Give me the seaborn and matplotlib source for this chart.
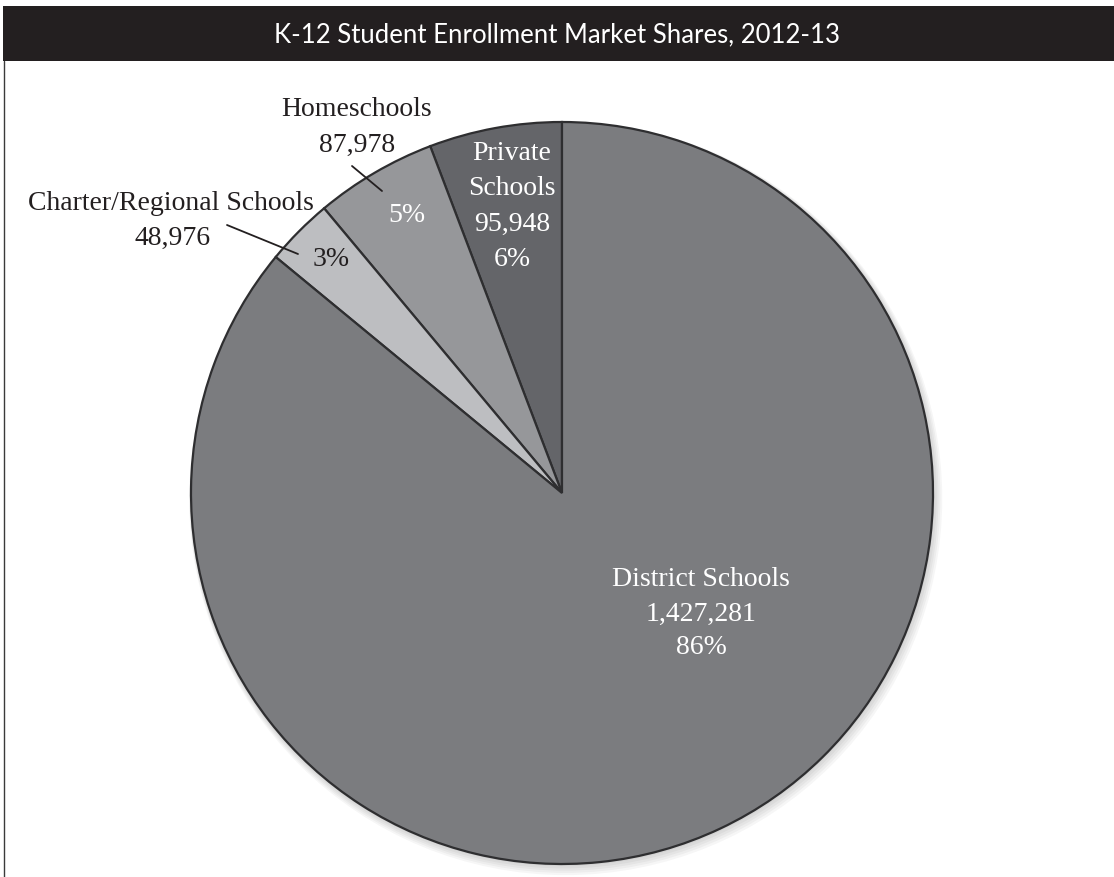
import matplotlib
matplotlib.use("Agg")
import matplotlib.pyplot as plt
from matplotlib.patches import Rectangle, Circle
from matplotlib.lines import Line2D
import seaborn as sns

# Enrollment by school type, 2012-13 (drawn counter-clockwise from 12 o'clock)
categories = ["Private Schools", "Homeschools", "Charter/Regional Schools", "District Schools"]
enrollment = [95948, 87978, 48976, 1427281]
colors = ["#646569", "#96979a", "#bdbec1", "#7b7c7f"]
title = "K-12 Student Enrollment Market Shares, 2012-13"

sns.set_theme(style="white")
plt.rcParams["font.family"] = ["Liberation Serif", "DejaVu Serif"]

W, H = 1114, 878
CX, CY, R = 562, 494, 371  # pie centre and radius in pixels


def px(x, y):
    """Pixel position (origin top-left) to data coords of the unit pie."""
    return (x - CX) / R, (CY - y) / R


fig = plt.figure(figsize=(W / 100, H / 100), dpi=100)
fig.patch.set_facecolor("white")
ax = fig.add_axes([0, 0, 1, 1])

# faint drop shadow under the pie
for k in range(1, 6):
    ax.add_patch(Circle((0.002 * k, -0.003 * k), 1 + 0.003 * k, facecolor="black",
                        edgecolor="none", alpha=0.035, zorder=0))

wedges, _ = ax.pie(
    enrollment,
    colors=colors,
    startangle=90,
    counterclock=True,
    radius=1,
    center=(0, 0),
    wedgeprops=dict(edgecolor="#2e2e30", linewidth=1.6, zorder=1),
)
ax.set_xlim(-CX / R, (W - CX) / R)
ax.set_ylim((CY - H) / R, CY / R)
ax.set_aspect("equal")
ax.axis("off")

total = sum(enrollment)
pct = {c: f"{round(v / total * 100):.0f}%" for c, v in zip(categories, enrollment)}
count = {c: f"{v:,}" for c, v in zip(categories, enrollment)}

fs = 20
dark = "#231f20"

# Private Schools: inside its wedge, white
for i, txt in enumerate(["Private", "Schools", count["Private Schools"], pct["Private Schools"]]):
    ax.text(*px(512, 153 + i * 35.5), txt, color="white", fontsize=fs,
            ha="center", va="center")

# Homeschools: name and count outside, percentage inside
ax.text(*px(357, 110), "Homeschools", color=dark, fontsize=fs, ha="center", va="center")
ax.text(*px(357, 145), count["Homeschools"], color=dark, fontsize=fs, ha="center", va="center")
ax.text(*px(407, 215), pct["Homeschools"], color="white", fontsize=fs, ha="center", va="center")
ax.add_line(Line2D(*zip(px(352, 167), px(382, 192)), color=dark, lw=1.3))

# Charter/Regional: name and count outside, percentage inside
ax.text(*px(171, 203), "Charter/Regional Schools", color=dark, fontsize=fs,
        ha="center", va="center")
ax.text(*px(173, 238), count["Charter/Regional Schools"], color=dark, fontsize=fs,
        ha="center", va="center")
ax.text(*px(331, 259), pct["Charter/Regional Schools"], color=dark, fontsize=fs,
        ha="center", va="center")
ax.add_line(Line2D(*zip(px(227, 226), px(298, 255)), color=dark, lw=1.3))

# District Schools
for i, txt in enumerate(["District Schools", count["District Schools"], pct["District Schools"]]):
    ax.text(*px(701, 580 + i * 34), txt, color="white", fontsize=fs,
            ha="center", va="center")

# Title bar and left frame rule
fig.patches.append(Rectangle((3 / W, 1 - 62 / H), 1 - 3 / W, 55 / H,
                             transform=fig.transFigure, facecolor=dark,
                             edgecolor="none", zorder=5))
fig.lines.append(Line2D([3.5 / W, 3.5 / W], [0, 1 - 62 / H], transform=fig.transFigure,
                        color="#3a3a3a", lw=1.0))
fig.text(557 / W, 1 - 35 / H, title, color="white", fontsize=18.5,
         family=["Lato", "DejaVu Sans"], ha="center", va="center", zorder=6)

fig.savefig("out.png", dpi=100, facecolor="white")
